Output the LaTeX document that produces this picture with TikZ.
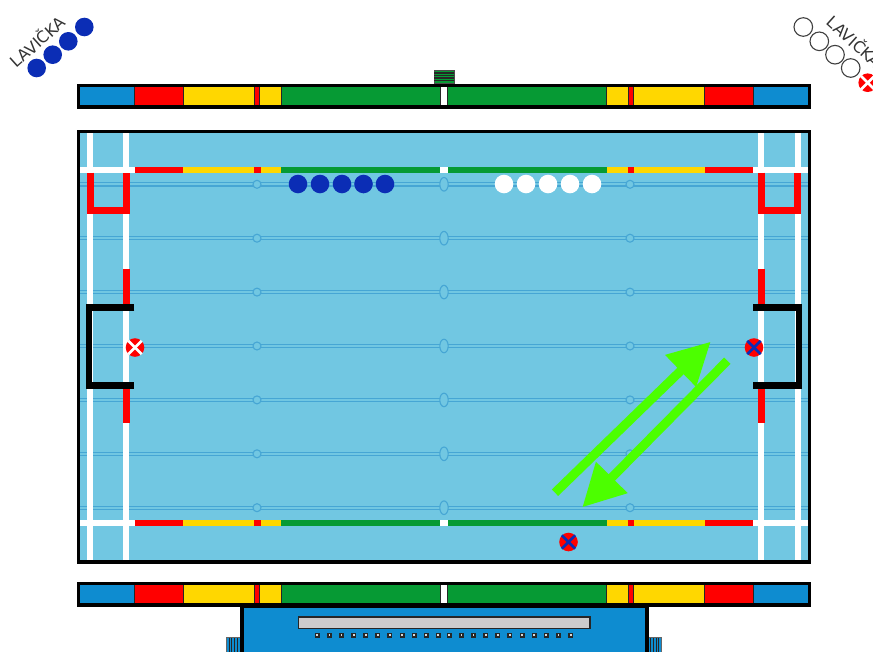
\documentclass[tikz,border=0pt]{standalone}
\usepackage{fontspec}
\setmainfont{DejaVu Sans}
\usepackage{tikz}
\usetikzlibrary{arrows.meta}
\definecolor{pool}{HTML}{71C7E2}
\definecolor{lane}{HTML}{46A6D4}
\definecolor{segblue}{HTML}{0E8CD0}
\definecolor{seggreen}{HTML}{069A34}
\definecolor{segyellow}{HTML}{FFD700}
\definecolor{teamblue}{HTML}{0B2DB5}
\definecolor{arrowgreen}{HTML}{4CFF00}

\begin{document}
\begin{tikzpicture}[x=1pt,y=-1pt,
  bar/.style={draw=black!85,line width=1pt},
  frame/.style={draw=black,line width=3.6pt},
  wline/.style={draw=white,line width=6.2pt},
  rline/.style={draw=red,line width=6.6pt},
  goal/.style={draw=black,line width=6.6pt,miter limit=10},
  laneline/.style={draw=lane,line width=1.2pt},
  float/.style={draw=lane,line width=1.1pt,fill=pool},
  ball/.style={circle,inner sep=0pt,minimum size=18.6pt},
  blueball/.style={ball,fill=teamblue},
  whiteball/.style={ball,fill=white},
  emptyball/.style={ball,fill=white,draw=black!75,line width=1.1pt},
  capball/.style={ball,fill=red},
  benchtext/.style={text=black!80,font=\fontsize{16}{16}\selectfont},
  ar/.style={draw=arrowgreen,line width=9pt,-{Triangle[length=42pt,width=42pt]}}
]
  \clip (0,0) rectangle (873,651);

  % pool
  \fill[pool] (78,131) rectangle (810,562);
  \foreach \y in {184.3,238.2,292.1,346,399.9,453.8,507.7} {
    \draw[laneline] (80,\y-1.6) -- (808,\y-1.6);
    \draw[laneline] (80,\y+1.6) -- (808,\y+1.6);
    \draw[float] (257,\y) circle (4);
    \draw[float] (630,\y) circle (4);
    \draw[float] (444,\y) ellipse (4.2 and 6.8);
  }
  \foreach \x in {90.3,126.3,761.3,797.7}
    \draw[wline] (\x,133) -- (\x,560);
  \foreach \y in {169.7,523} {
    \draw[wline] (80,\y) -- (135,\y);
    \draw[wline] (753,\y) -- (808,\y);
    \draw[draw=red,line width=6.2pt] (134.7,\y) -- (183,\y);
    \draw[draw=segyellow,line width=6.2pt] (183,\y) -- (281,\y);
    \draw[draw=red,line width=6.2pt] (254.3,\y) -- (260.5,\y);
    \draw[draw=seggreen,line width=6.2pt] (281,\y) -- (440,\y);
    \draw[wline] (440,\y) -- (448,\y);
    \draw[draw=seggreen,line width=6.2pt] (448,\y) -- (607,\y);
    \draw[draw=segyellow,line width=6.2pt] (607,\y) -- (705,\y);
    \draw[draw=red,line width=6.2pt] (627.5,\y) -- (633.5,\y);
    \draw[draw=red,line width=6.2pt] (705,\y) -- (753,\y);
  }
  \draw[rline] (90.3,172.7) -- (90.3,210.7) -- (126.3,210.7) -- (126.3,172.7);
  \draw[rline] (761.3,172.7) -- (761.3,210.7) -- (797.7,210.7) -- (797.7,172.7);
  \draw[rline] (126.3,269) -- (126.3,307);
  \draw[rline] (126.3,385) -- (126.3,423);
  \draw[rline] (761.3,269) -- (761.3,307);
  \draw[rline] (761.3,385) -- (761.3,423);
  \draw[goal] (134.3,307.5) -- (89,307.5) -- (89,385.3) -- (134.3,385.3);
  \draw[goal] (753.3,307.5) -- (799,307.5) -- (799,385.3) -- (753.3,385.3);
  \draw[frame] (78.5,131.3) rectangle (809.5,561.7);

  % side bars
  \foreach \ya/\yb in {85.3/106.8,583.4/605.2} {
    \draw[bar,fill=segblue] (78.5,\ya) rectangle (134.7,\yb);
    \draw[bar,fill=red] (134.7,\ya) rectangle (183.3,\yb);
    \draw[bar,fill=segyellow] (183.3,\ya) rectangle (254.7,\yb);
    \draw[bar,fill=red] (254.7,\ya) rectangle (259.7,\yb);
    \draw[bar,fill=segyellow] (259.7,\ya) rectangle (281.7,\yb);
    \draw[bar,fill=seggreen] (281.7,\ya) rectangle (440.3,\yb);
    \draw[bar,fill=white] (440.3,\ya) rectangle (447.7,\yb);
    \draw[bar,fill=seggreen] (447.7,\ya) rectangle (606.3,\yb);
    \draw[bar,fill=segyellow] (606.3,\ya) rectangle (628.3,\yb);
    \draw[bar,fill=red] (628.3,\ya) rectangle (633.3,\yb);
    \draw[bar,fill=segyellow] (633.3,\ya) rectangle (704.7,\yb);
    \draw[bar,fill=red] (704.7,\ya) rectangle (753.3,\yb);
    \draw[bar,fill=segblue] (753.3,\ya) rectangle (809.5,\yb);
    \draw[frame] (78.5,\ya) rectangle (809.5,\yb);
  }

  % green tab
  \draw[bar,draw=black!70,fill=seggreen] (434,70.5) rectangle (454,83.5);
  \foreach \y in {73,75.5,78,80.5}
    \draw[draw=black!85,line width=1.1pt] (434,\y) -- (454,\y);

  % judges stand
  \foreach \xa/\xb in {226.5/240,648/661.5} {
    \draw[bar,draw=black!60,fill=segblue] (\xa,637.5) rectangle (\xb,660);
    \foreach \k in {1,2,3,4}
      \draw[draw=black!85,line width=1.1pt] (\xa+\k*2.7,637.5) -- (\xa+\k*2.7,660);
  }
  \draw[frame,fill=segblue] (241.7,606.5) rectangle (646.7,665);
  \draw[draw=black!85,line width=1.2pt,fill=black!20] (298.5,617) rectangle (590,628.5);
  \foreach \k in {0,...,10} {
    \draw[draw=black!85,line width=1.6pt,fill=black!15] (317.3+\k*12.1-1.7,635-1.7) rectangle ++(3.4,3.4);
    \draw[draw=black!85,line width=1.6pt,fill=black!15] (449.3+\k*12.13-1.7,635-1.7) rectangle ++(3.4,3.4);
  }

  % teams
  \foreach \x/\n in {298/a,320/b,342/c,363.5/d,385/e}
    \node[blueball] (blue\n) at (\x,184) {};
  \foreach \x/\n in {504/a,526/b,548/c,570/d,592/e}
    \node[whiteball] (white\n) at (\x,184) {};

  % benches
  \node[blueball] (benchb1) at (36.7,68) {};
  \node[blueball] (benchb2) at (52.7,54.7) {};
  \node[blueball] (benchb3) at (68.3,41.3) {};
  \node[blueball] (benchb4) at (84.3,27) {};
  \node[benchtext,rotate=42] (benchleft) at (37,41) {LAVIČKA};
  \node[emptyball] (benchw1) at (803.3,27) {};
  \node[emptyball] (benchw2) at (819.3,41.3) {};
  \node[emptyball] (benchw3) at (835,54.7) {};
  \node[emptyball] (benchw4) at (850.7,68) {};
  \node[benchtext,rotate=-42] (benchright) at (855,41) {LAVIČKA};

  % players
  \foreach \x/\y/\c/\n in {867.7/82.7/white/bench,135/347.5/white/goalw,754/347.5/teamblue/goalb,568.5/542/teamblue/wing} {
    \node[capball] (cap\n) at (\x,\y) {};
    \draw[draw=\c,line width=2.6pt] (cap\n.45) -- (cap\n.225);
    \draw[draw=\c,line width=2.6pt] (cap\n.135) -- (cap\n.315);
  }

  % swim paths
  \coordinate (upa) at (555,492.7);
  \coordinate (upb) at (710.7,341.7);
  \coordinate (downa) at (727.3,360.7);
  \coordinate (downb) at (582.3,507.3);
  \draw[ar] (upa) -- (upb);
  \draw[ar] (downa) -- (downb);
\end{tikzpicture}
\end{document}
